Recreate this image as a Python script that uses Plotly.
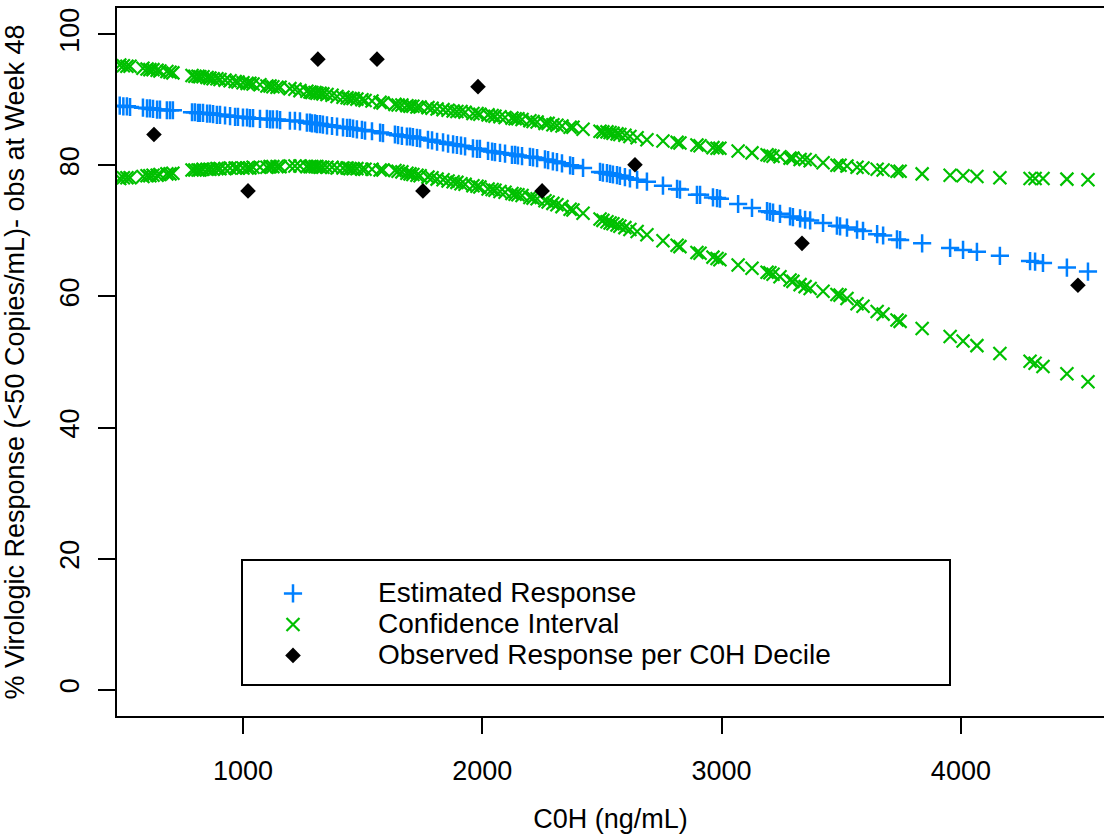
import plotly.graph_objects as go

# C0H values of individual subjects (ng/mL)
c0h = [
    485, 500, 515, 528, 582, 599, 611, 624, 641, 653,
    682, 695, 707, 787, 799, 812, 820, 833, 850, 862,
    875, 891, 904, 925, 946, 967, 979, 1000, 1017, 1029,
    1042, 1071, 1100, 1113, 1125, 1142, 1155, 1196, 1217, 1238,
    1267, 1280, 1288, 1301, 1309, 1322, 1334, 1351, 1372, 1393,
    1418, 1435, 1447, 1460, 1476, 1497, 1510, 1539, 1573, 1585,
    1635, 1648, 1664, 1685, 1698, 1710, 1727, 1740, 1773, 1790,
    1811, 1836, 1857, 1878, 1894, 1911, 1928, 1961, 1978, 1990,
    2024, 2041, 2053, 2074, 2095, 2124, 2137, 2149, 2166, 2199,
    2212, 2229, 2262, 2275, 2295, 2312, 2333, 2367, 2379, 2421,
    2492, 2504, 2521, 2534, 2546, 2563, 2575, 2596, 2617, 2647,
    2688, 2755, 2814, 2826, 2897, 2910, 2964, 2981, 2993, 3069,
    3127, 3190, 3202, 3215, 3244, 3286, 3298, 3328, 3349, 3370,
    3424, 3482, 3495, 3524, 3566, 3591, 3650, 3675, 3733, 3746,
    3838, 3955, 4009, 4067, 4163, 4289, 4310, 4343, 4443, 4531,
]

estimated = [
    89.1, 89.0, 89.0, 88.9, 88.8, 88.7, 88.7, 88.6, 88.5, 88.5,
    88.4, 88.4, 88.4, 88.1, 88.1, 88.0, 88.0, 88.0, 87.9, 87.9,
    87.8, 87.7, 87.7, 87.6, 87.5, 87.4, 87.4, 87.3, 87.3, 87.2,
    87.2, 87.1, 87.1, 87.0, 87.0, 87.0, 86.9, 86.8, 86.8, 86.7,
    86.5, 86.5, 86.4, 86.4, 86.3, 86.3, 86.2, 86.1, 86.0, 85.9,
    85.8, 85.7, 85.7, 85.6, 85.5, 85.4, 85.3, 85.2, 85.0, 84.9,
    84.7, 84.6, 84.5, 84.4, 84.4, 84.3, 84.2, 84.1, 83.9, 83.8,
    83.6, 83.5, 83.3, 83.2, 83.1, 83.0, 82.9, 82.6, 82.5, 82.5,
    82.2, 82.1, 82.0, 81.9, 81.8, 81.6, 81.6, 81.5, 81.4, 81.3,
    81.2, 81.1, 80.9, 80.8, 80.6, 80.5, 80.3, 80.0, 79.9, 79.6,
    79.0, 78.9, 78.8, 78.7, 78.6, 78.5, 78.4, 78.2, 78.0, 77.8,
    77.5, 76.9, 76.4, 76.3, 75.5, 75.5, 75.1, 75.0, 74.9, 74.1,
    73.5, 73.0, 72.9, 72.8, 72.6, 72.2, 72.1, 71.9, 71.7, 71.6,
    71.2, 70.8, 70.7, 70.5, 70.2, 70.0, 69.5, 69.3, 68.7, 68.6,
    68.1, 67.4, 67.1, 66.8, 66.2, 65.4, 65.3, 65.1, 64.4, 63.8,
]

ci_upper = [
    95.3, 95.2, 95.1, 95.1, 94.8, 94.7, 94.6, 94.6, 94.5, 94.4,
    94.3, 94.2, 94.1, 93.7, 93.6, 93.6, 93.5, 93.5, 93.4, 93.3,
    93.2, 93.2, 93.1, 93.0, 92.9, 92.8, 92.7, 92.6, 92.5, 92.5,
    92.4, 92.3, 92.1, 92.1, 92.0, 91.9, 91.9, 91.7, 91.6, 91.4,
    91.3, 91.2, 91.1, 91.1, 91.0, 91.0, 90.9, 90.8, 90.7, 90.5,
    90.4, 90.3, 90.2, 90.2, 90.1, 90.0, 89.9, 89.8, 89.6, 89.5,
    89.3, 89.2, 89.2, 89.1, 89.0, 89.0, 88.9, 88.9, 88.8, 88.7,
    88.6, 88.5, 88.4, 88.3, 88.2, 88.2, 88.1, 87.9, 87.9, 87.8,
    87.7, 87.6, 87.5, 87.4, 87.3, 87.2, 87.1, 87.1, 87.0, 86.8,
    86.7, 86.6, 86.4, 86.4, 86.2, 86.1, 86.0, 85.8, 85.8, 85.5,
    85.2, 85.1, 85.1, 85.0, 84.9, 84.8, 84.7, 84.6, 84.4, 84.2,
    83.9, 83.7, 83.5, 83.4, 83.1, 83.0, 82.7, 82.6, 82.6, 82.2,
    81.9, 81.6, 81.5, 81.4, 81.3, 81.1, 81.1, 80.9, 80.9, 80.7,
    80.4, 80.0, 80.0, 79.9, 79.7, 79.6, 79.4, 79.3, 79.1, 79.1,
    78.7, 78.5, 78.4, 78.3, 78.1, 78.0, 78.0, 78.0, 77.9, 77.8,
]

ci_lower = [
    78.0, 78.1, 78.1, 78.1, 78.3, 78.4, 78.4, 78.5, 78.5, 78.6,
    78.7, 78.7, 78.8, 79.3, 79.3, 79.3, 79.3, 79.4, 79.4, 79.4,
    79.4, 79.5, 79.5, 79.5, 79.6, 79.6, 79.6, 79.6, 79.6, 79.6,
    79.7, 79.7, 79.7, 79.8, 79.8, 79.8, 79.8, 79.9, 79.9, 79.9,
    79.8, 79.8, 79.8, 79.8, 79.8, 79.7, 79.7, 79.7, 79.7, 79.6,
    79.6, 79.6, 79.5, 79.5, 79.5, 79.4, 79.4, 79.4, 79.3, 79.3,
    79.2, 79.1, 79.0, 78.8, 78.7, 78.6, 78.5, 78.4, 78.2, 78.1,
    77.9, 77.8, 77.6, 77.5, 77.4, 77.2, 77.1, 76.9, 76.8, 76.7,
    76.4, 76.3, 76.2, 76.0, 75.9, 75.7, 75.6, 75.5, 75.4, 75.1,
    75.0, 74.9, 74.6, 74.4, 74.2, 74.0, 73.7, 73.3, 73.2, 72.7,
    71.8, 71.6, 71.4, 71.2, 71.1, 70.9, 70.7, 70.5, 70.2, 69.9,
    69.4, 68.5, 67.8, 67.6, 66.7, 66.6, 66.0, 65.8, 65.6, 64.8,
    64.3, 63.7, 63.6, 63.4, 63.0, 62.5, 62.3, 61.8, 61.5, 61.2,
    60.8, 60.3, 60.2, 59.7, 58.9, 58.5, 57.7, 57.3, 56.4, 56.2,
    55.1, 53.9, 53.2, 52.5, 51.3, 50.1, 49.8, 49.3, 48.2, 47.0,
]

# Observed response per C0H decile
obs_c0h = [628, 1021, 1313, 1560, 1752, 1982, 2250, 2638, 3336, 4489]
obs_resp = [84.7, 76.1, 96.2, 96.2, 76.1, 92.0, 76.1, 80.1, 68.1, 61.7]

x_ticks = [1000, 2000, 3000, 4000]
y_ticks = [0, 20, 40, 60, 80, 100]

legend_names = ["Estimated Response", "Confidence Interval",
                "Observed Response per C0H Decile"]

BLUE = "#0080FF"
GREEN = "#00C000"
FONT = "Liberation Sans, Arial, sans-serif"


def big(txt):
    return '<span style="font-size:28px">' + txt + '</span>'


fig = go.Figure()

fig.add_trace(go.Scatter(
    x=c0h, y=estimated, mode="markers", name=big(legend_names[0]),
    marker=dict(symbol="cross-thin", size=13, line=dict(color=BLUE, width=2.5)),
))
fig.add_trace(go.Scatter(
    x=c0h + [None] + c0h, y=ci_upper + [None] + ci_lower, mode="markers",
    name=big(legend_names[1]),
    marker=dict(symbol="x-thin", size=13, line=dict(color=GREEN, width=2.2)),
))
fig.add_trace(go.Scatter(
    x=obs_c0h, y=obs_resp, mode="markers", name=big(legend_names[2]),
    marker=dict(symbol="diamond", size=12, color="black", line=dict(width=0)),
))

fig.update_layout(
    width=1104, height=834,
    margin=dict(l=117, r=0, t=8, b=118),
    paper_bgcolor="white", plot_bgcolor="white",
    font=dict(family=FONT, size=27, color="black"),
    showlegend=True,
    legend=dict(
        x=(208 - 117) / 987, y=(716 - 573) / 708, xanchor="left", yanchor="top",
        bgcolor="rgba(0,0,0,0)", borderwidth=0,
        itemwidth=160, font=dict(family=FONT, size=21.5, color="black"),
        tracegroupgap=0,
    ),
    shapes=[dict(
        type="rect", xref="paper", yref="paper",
        x0=(242 - 117) / 987, x1=(950 - 117) / 987,
        y0=(716 - 685) / 708, y1=(716 - 560) / 708,
        line=dict(color="black", width=2), fillcolor="rgba(0,0,0,0)",
    )],
)

fig.update_xaxes(
    range=[473.5, 4598], tickvals=x_ticks, ticktext=[str(v) for v in x_ticks],
    showgrid=False, zeroline=False, showline=True, linecolor="black", linewidth=2,
    mirror=True, ticks="outside", ticklen=16, tickwidth=2, tickcolor="black",
    ticklabelstandoff=14, tickfont=dict(size=27),
    title=dict(text="C0H (ng/mL)", font=dict(size=27), standoff=27),
)
fig.update_yaxes(
    range=[-4, 104], tickvals=y_ticks, ticktext=[str(v) for v in y_ticks],
    showgrid=False, zeroline=False, showline=True, linecolor="black", linewidth=2,
    mirror=False, ticks="outside", ticklen=17, tickwidth=2, tickcolor="black",
    tickangle=-90, ticklabelstandoff=8, tickfont=dict(size=27),
    title=dict(text="% Virologic Response (<50 Copies/mL)- obs at Week 48",
               font=dict(size=27), standoff=26),
)

fig.write_html("out.html")
